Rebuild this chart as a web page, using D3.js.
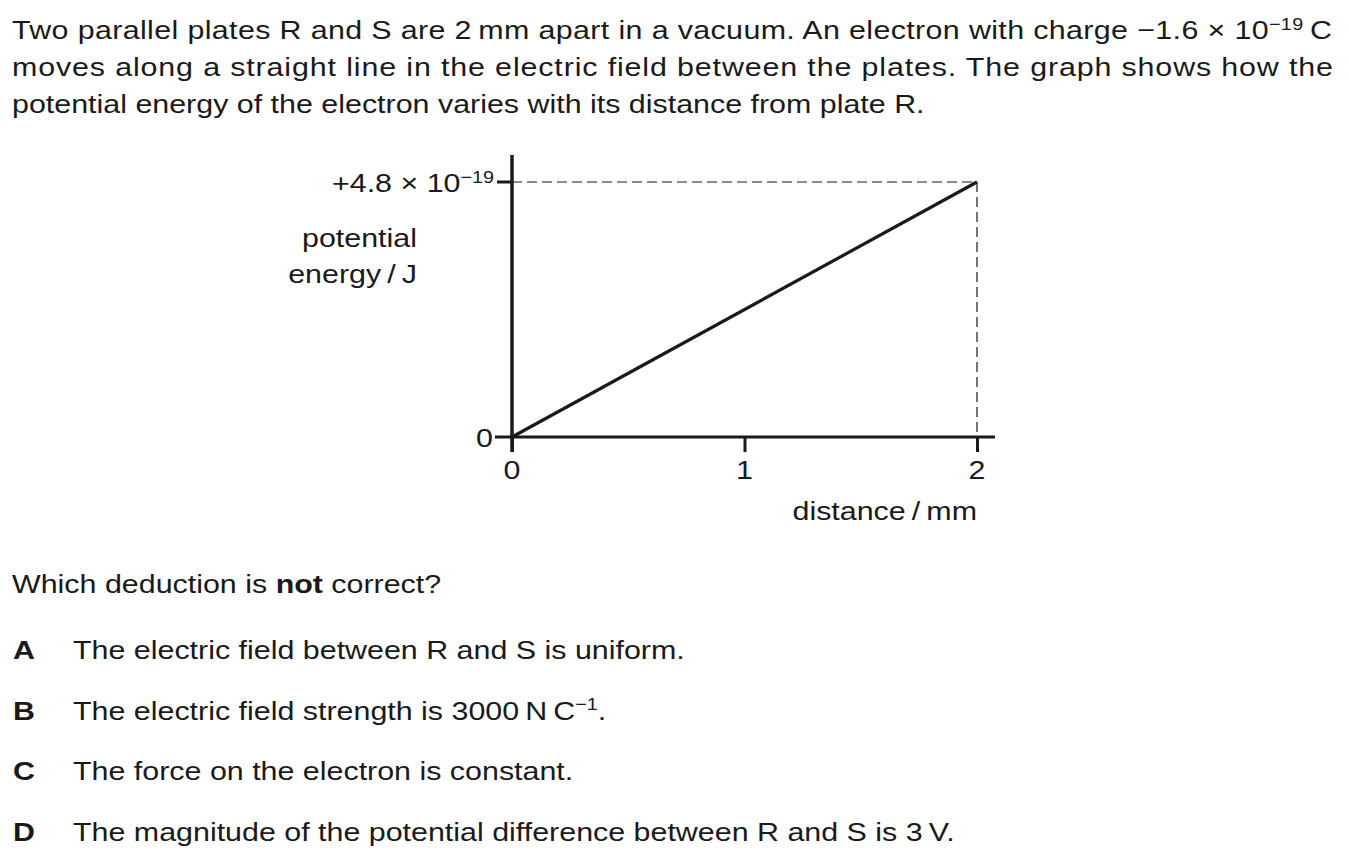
<!DOCTYPE html>
<html><head><meta charset="utf-8">
<script src="https://cdn.jsdelivr.net/npm/d3@7"></script>
<style>body{margin:0;background:#fff;} text{font-family:"Liberation Sans",Arial,sans-serif;fill:#1a1a1a;}</style>
</head><body>
<svg id="c" width="1349" height="860"></svg>
<script>
const distance = [0, 2];           // mm
const energy = [0, 4.8];           // ×10^-19 J
const xTicks = [0, 1, 2];
const xTickLabels = ["0", "1", "2"];
const yTicks = [0, 4.8];

const svg = d3.select("#c");
const fs = 26;
const SX = 1.17;
const ink = "#1a1a1a";
const x = d3.scaleLinear().domain([0, 2]).range([512, 977]);
const y = d3.scaleLinear().domain([0, 4.8]).range([437, 182]);

function txt(parts, xx, yy, opt = {}) {
  const g = svg.append("g").attr("transform", `translate(${xx},${yy}) scale(${SX},1)`);
  const t = g.append("text").attr("x", 0).attr("y", 0).attr("font-size", fs)
    .attr("text-anchor", opt.anchor || "start");
  if (opt.len) t.attr("textLength", opt.len / SX).attr("lengthAdjust", "spacing");
  parts.forEach(p => {
    const s = t.append("tspan").text(p.t);
    if (p.sup) s.attr("font-size", fs * 0.65).attr("baseline-shift", "super");
    if (p.b) s.attr("font-weight", "bold");
  });
  return t;
}

txt([{t:"Two parallel plates R and S are 2\u2009mm apart in a vacuum. An electron with charge \u22121.6 \u00d7 10"},{t:"\u221219",sup:true},{t:"\u2009C"}], 12, 39, {len:1320});
txt([{t:"moves along a straight line in the electric field between the plates. The graph shows how the"}], 12, 76, {len:1321});
txt([{t:"potential energy of the electron varies with its distance from plate R."}], 12, 113);

// dashed guides
svg.append("line").attr("x1", x(0)).attr("x2", x(distance[1])).attr("y1", y(energy[1])).attr("y2", y(energy[1]))
  .attr("stroke", ink).attr("stroke-width", 1.2).attr("stroke-dasharray", "10,5");
svg.append("line").attr("x1", x(distance[1])).attr("x2", x(distance[1])).attr("y1", y(energy[1])).attr("y2", y(0))
  .attr("stroke", ink).attr("stroke-width", 1.2).attr("stroke-dasharray", "10,5");

// x axis ticks
const xAxis = d3.axisBottom(x).tickValues(xTicks).tickFormat("").tickSize(15);
const gx = svg.append("g").attr("transform", `translate(0,${y(0)})`).call(xAxis);
gx.select(".domain").remove();
gx.selectAll(".tick line").attr("stroke", ink).attr("stroke-width", 3);
xTicks.forEach((d, i) => txt([{t: xTickLabels[i]}], x(d), 479, {anchor: "middle"}));

svg.append("line").attr("x1", 495).attr("x2", 995).attr("y1", y(0)).attr("y2", y(0)).attr("stroke", ink).attr("stroke-width", 3);
svg.append("line").attr("x1", x(0)).attr("x2", x(0)).attr("y1", 155).attr("y2", 452).attr("stroke", ink).attr("stroke-width", 3.5);

// y ticks
svg.append("line").attr("x1", 497).attr("x2", x(0)).attr("y1", y(yTicks[1])).attr("y2", y(yTicks[1])).attr("stroke", ink).attr("stroke-width", 3);
txt([{t:"+4.8 \u00d7 10"},{t:"\u221219",sup:true}], 494, y(yTicks[1]) + 10, {anchor:"end"});
txt([{t:"0"}], 493, y(yTicks[0]) + 10, {anchor:"end"});

// axis titles
txt([{t:"potential"}], 417, 247, {anchor:"end"});
txt([{t:"energy\u2009/\u2009J"}], 417, 283, {anchor:"end"});
txt([{t:"distance\u2009/\u2009mm"}], 977, 520, {anchor:"end"});

// data line
const pts = distance.map((d, i) => [d, energy[i]]);
svg.append("path").datum(pts).attr("d", d3.line().x(d => x(d[0])).y(d => y(d[1])))
  .attr("fill", "none").attr("stroke", ink).attr("stroke-width", 3.2);

// question
txt([{t:"Which deduction is "},{t:"not",b:true},{t:" correct?"}], 12, 593);
const optLetters = ["A", "B", "C", "D"];
const optTexts = [
  [{t:"The electric field between R and S is uniform."}],
  [{t:"The electric field strength is 3000\u2009N\u2009C"},{t:"\u22121",sup:true},{t:"."}],
  [{t:"The force on the electron is constant."}],
  [{t:"The magnitude of the potential difference between R and S is 3\u2009V."}]
];
optLetters.forEach((L, i) => {
  const yy = 659 + i * 60.5;
  txt([{t:L, b:true}], 13, yy);
  txt(optTexts[i], 73, yy);
});
</script>
</body></html>
